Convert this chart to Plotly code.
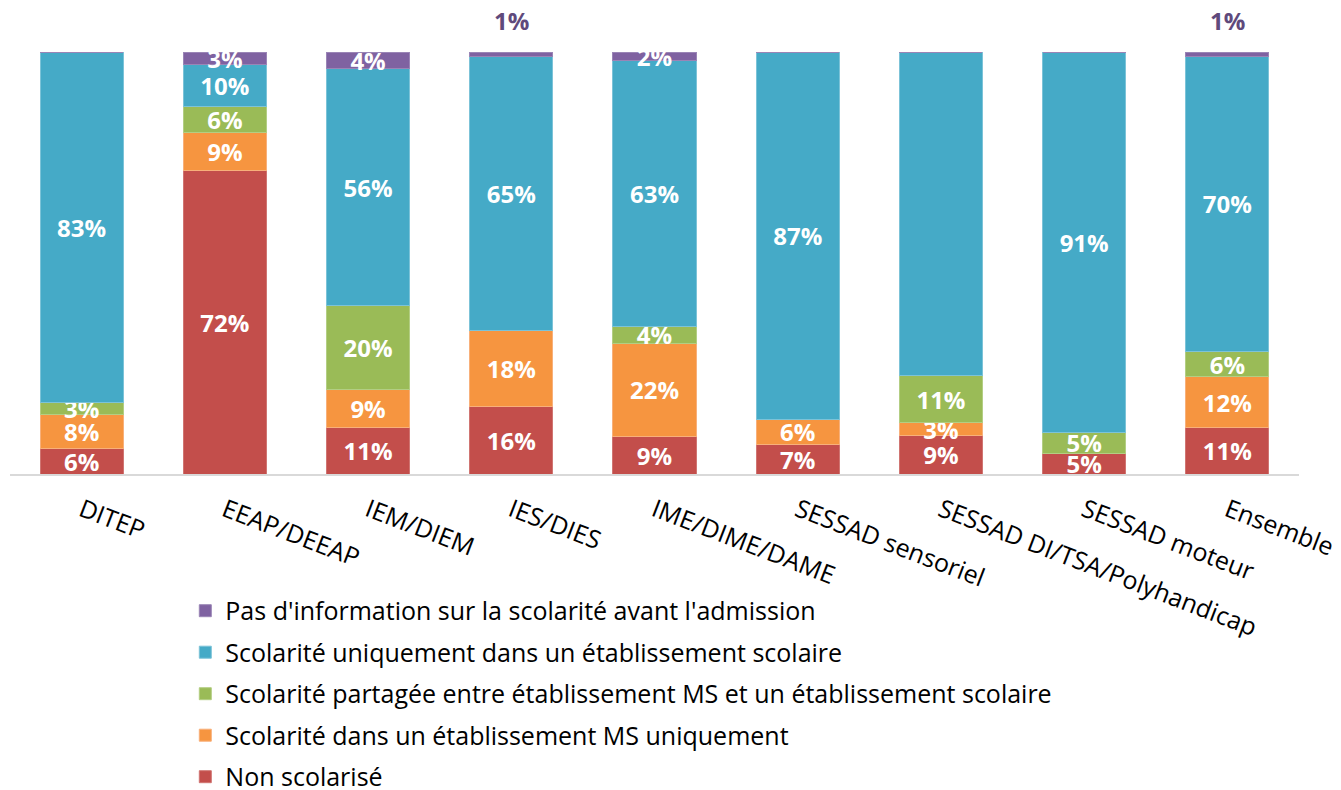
import plotly.graph_objects as go

categories = ["DITEP", "EEAP/DEEAP", "IEM/DIEM", "IES/DIES", "IME/DIME/DAME",
              "SESSAD sensoriel", "SESSAD DI/TSA/Polyhandicap", "SESSAD moteur", "Ensemble"]

series_names = [
    "Non scolarisé",
    "Scolarité dans un établissement MS uniquement",
    "Scolarité partagée entre établissement MS et un établissement scolaire",
    "Scolarité uniquement dans un établissement scolaire",
    "Pas d'information sur la scolarité avant l'admission",
]

non_scolarise = [6, 72, 11, 16, 9, 7, 9, 5, 11]
ms_uniquement = [8, 9, 9, 18, 22, 6, 3, 0, 12]
partagee = [3, 6, 20, 0, 4, 0, 11, 5, 6]
etab_scolaire = [83, 10, 56, 65, 63, 87, 76, 91, 70]
pas_info = [0, 3, 4, 1, 2, 0, 0, 0, 1]

colors = ["#C34E4B", "#F69540", "#9ABB57", "#45AAC7", "#7F62A1"]
edge_colors = ["#D07572", "#F8B07A", "#B3CE83", "#7CC3D8", "#9A85B6"]

series = [non_scolarise, ms_uniquement, partagee, etab_scolaire, pas_info]

FONT = "Open Sans"

fig = go.Figure()
for i, (name, vals) in enumerate(zip(series_names, series)):
    if i == 4:
        texts = [f"{v}%" if v > 1 else "" for v in vals]
    else:
        texts = [f"{v}%" if v > 0 else "" for v in vals]
    fig.add_trace(go.Bar(
        x=categories, y=vals, name=name,
        marker=dict(color=colors[i], line=dict(color=edge_colors[i], width=1)),
        text=texts, textposition="inside", textangle=0,
        insidetextanchor="middle", constraintext="none",
        insidetextfont=dict(family=FONT, size=24, color="white", weight="bold"),
        cliponaxis=False, legendgroup=str(i), legendrank=10 - i,
        hoverinfo="skip",
    ))

# small top values shown above the bars (Excel-like outside label)
totals = [sum(s[k] for s in series) for k in range(len(categories))]
for k, cat in enumerate(categories):
    v = pas_info[k]
    if v == 1:
        fig.add_annotation(
            x=cat, y=100.0 * totals[k] / totals[k], yref="y", xref="x",
            text=f"{v}%", showarrow=False, yanchor="bottom", yshift=13,
            font=dict(family=FONT, size=24, color="#5F4A7C", weight="bold"),
        )

fig.update_layout(
    width=1333, height=782,
    barmode="stack", barnorm="percent", bargap=0.42,
    plot_bgcolor="white", paper_bgcolor="white",
    margin=dict(l=2, r=42, t=44, b=316, autoexpand=False),
    font=dict(family=FONT, size=25, color="#000000"),
    showlegend=True,
    legend=dict(
        orientation="v", x=0.136, xanchor="left", y=-0.27, yanchor="top",
        traceorder="grouped", tracegroupgap=6,
        font=dict(family=FONT, size=25, color="#000000"),
        itemwidth=30,
    ),
    xaxis=dict(
        tickangle=21, showline=True, linecolor="#D9D9D9", linewidth=2,
        ticks="", ticklabelstandoff=10, showgrid=False,
        tickfont=dict(family=FONT, size=25, color="#000000"),
    ),
    yaxis=dict(range=[0, 100], visible=False, showgrid=False),
)

fig.write_html("out.html")
